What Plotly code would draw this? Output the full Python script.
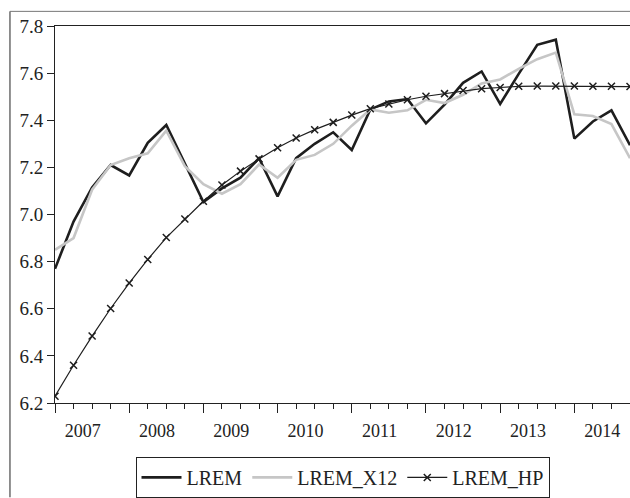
import plotly.graph_objects as go

years = [2007, 2008, 2009, 2010, 2011, 2012, 2013, 2014]
quarters = [f"{y}Q{q}" for y in years for q in range(1, 5)]

lrem = [6.77, 6.97, 7.115, 7.21, 7.166, 7.304, 7.38, 7.218,
        7.053, 7.111, 7.156, 7.239, 7.077, 7.239, 7.30, 7.349,
        7.274, 7.446, 7.48, 7.49, 7.387, 7.466, 7.559, 7.607,
        7.469, 7.597, 7.72, 7.742, 7.322, 7.395, 7.442, 7.294]

lrem_x12 = [6.85, 6.90, 7.105, 7.21, 7.239, 7.26, 7.356, 7.205,
            7.129, 7.088, 7.129, 7.212, 7.156, 7.232, 7.253, 7.30,
            7.377, 7.446, 7.432, 7.442, 7.487, 7.473, 7.508, 7.556,
            7.573, 7.618, 7.659, 7.687, 7.425, 7.418, 7.384, 7.239]

lrem_hp = [6.229, 6.36, 6.484, 6.601, 6.709, 6.809, 6.902, 6.981,
           7.056, 7.125, 7.184, 7.236, 7.283, 7.325, 7.36, 7.391,
           7.422, 7.449, 7.469, 7.487, 7.502, 7.513, 7.526, 7.534,
           7.539, 7.544, 7.545, 7.545, 7.545, 7.544, 7.544, 7.543]

x = list(range(len(quarters)))
year_start = [i for i, q in enumerate(quarters) if q.endswith("Q1")]
label_pos = [i + 1.5 for i in year_start]
year_labels = [str(y) for y in years]

FONT = "Liberation Serif"
INK = "#1e1e1e"

fig = go.Figure()
fig.add_trace(go.Scatter(x=x, y=lrem, name="LREM", mode="lines",
                         line=dict(color=INK, width=2.6)))
fig.add_trace(go.Scatter(x=x, y=lrem_x12, name="LREM_X12", mode="lines",
                         line=dict(color="#c6c6c6", width=2.6)))
fig.add_trace(go.Scatter(x=x, y=lrem_hp, name="LREM_HP", mode="lines+markers",
                         line=dict(color=INK, width=1.2),
                         marker=dict(symbol="x-thin", size=7,
                                     line=dict(color=INK, width=1.5))))
fig.add_trace(go.Scatter(x=[], y=[], xaxis="x2", showlegend=False, hoverinfo="skip"))

rng = [0, len(quarters) - 1]
fig.update_layout(
    width=630, height=498,
    margin=dict(l=55, r=0, t=26, b=85),
    paper_bgcolor="white", plot_bgcolor="white",
    font=dict(family=FONT, size=18, color="#222"),
    showlegend=True,
    legend=dict(orientation="h", x=0.5, xanchor="center", y=-0.143, yanchor="top",
                bordercolor="#222", borderwidth=1, font=dict(size=20, family=FONT),
                itemwidth=40, tracegroupgap=0),
    xaxis=dict(range=rng, showgrid=False, zeroline=False,
               showline=True, linecolor="#222", linewidth=1, mirror=True,
               tickmode="array", tickvals=year_start, showticklabels=False,
               ticks="outside", ticklen=9, tickcolor="#222", tickwidth=1,
               minor=dict(tickmode="array", tickvals=x, ticks="outside",
                          ticklen=5, tickcolor="#222", tickwidth=1)),
    xaxis2=dict(range=rng, overlaying="x", side="bottom", anchor="y",
                showgrid=False, zeroline=False, showline=False,
                tickmode="array", tickvals=label_pos, ticktext=year_labels,
                ticks="", ticklabelstandoff=15,
                tickfont=dict(family=FONT, size=18, color="#222")),
    yaxis=dict(range=[6.2, 7.8], dtick=0.2, tickformat=".1f",
               showgrid=False, zeroline=False,
               showline=True, linecolor="#222", linewidth=1, mirror=False,
               ticks="outside", ticklen=7, tickcolor="#222", tickwidth=1,
               tickfont=dict(family=FONT, size=19, color="#222")),
)

# outer frame (left and top edges of the enclosing box)
fig.add_shape(type="line", xref="paper", yref="paper",
              x0=-0.0783, x1=-0.0783, y0=1.0388, y1=-0.25,
              line=dict(color="#222", width=1))
fig.add_shape(type="line", xref="paper", yref="paper",
              x0=-0.0783, x1=1.0, y0=1.0388, y1=1.0388,
              line=dict(color="#777", width=1))

fig.write_html(
    "out.html",
    config={"displayModeBar": False},
    post_script="document.body.style.margin='0';document.body.style.overflow='hidden';",
)
